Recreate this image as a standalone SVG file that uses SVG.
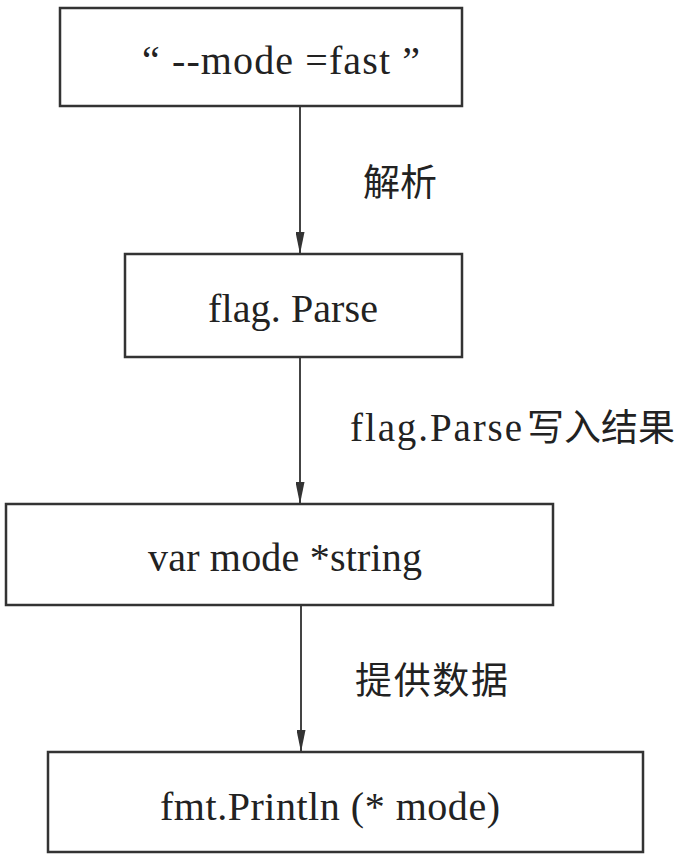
<svg xmlns="http://www.w3.org/2000/svg" width="692" height="860" viewBox="0 0 692 860">
<defs>
<style>
.box{fill:none;stroke:#333;stroke-width:2.5}
.t{font-family:"Liberation Serif","Times New Roman",serif;font-size:40px;fill:#222}
.c{font-family:"Liberation Serif","Noto Sans CJK SC",serif;font-size:37px;fill:#222}
.edge{stroke:#444;stroke-width:2;fill:none;marker-end:url(#ah)}
</style>
<marker id="ah" viewBox="0 0 22 9" refX="22" refY="4.5" markerWidth="22" markerHeight="9" markerUnits="userSpaceOnUse" orient="auto">
<path d="M0,0 L22,4.5 L0,9 Z" fill="#333"/>
</marker>
</defs>
<rect width="692" height="860" fill="#fff"/>
<g id="connectors">
<line class="edge" x1="300" y1="106" x2="300" y2="254"/>
<line class="edge" x1="300" y1="357" x2="300" y2="504"/>
<line class="edge" x1="301" y1="605" x2="301" y2="752"/>
<text class="c" x="363" y="196">解析</text>
<text class="c" x="350" y="441"><tspan font-size="39" textLength="172" lengthAdjust="spacing">flag.Parse</tspan><tspan x="527">写入结果</tspan></text>
<text class="c" x="355" y="694" textLength="153" lengthAdjust="spacing">提供数据</text>
</g>
<g id="n1">
<rect class="box" x="60" y="8" width="402" height="98"/>
<text class="t" x="142" y="74" textLength="278" lengthAdjust="spacing">“ --mode =fast ”</text>
</g>
<g id="n2">
<rect class="box" x="125" y="254" width="337" height="103"/>
<text class="t" x="208" y="322" textLength="170" lengthAdjust="spacing">flag. Parse</text>
</g>
<g id="n3">
<rect class="box" x="6" y="504" width="547" height="101"/>
<text class="t" x="148" y="571" textLength="274" lengthAdjust="spacing">var mode *string</text>
</g>
<g id="n4">
<rect class="box" x="48" y="752" width="595" height="100"/>
<text class="t" x="160" y="820" textLength="340" lengthAdjust="spacing">fmt.Println (* mode)</text>
</g>
</svg>
